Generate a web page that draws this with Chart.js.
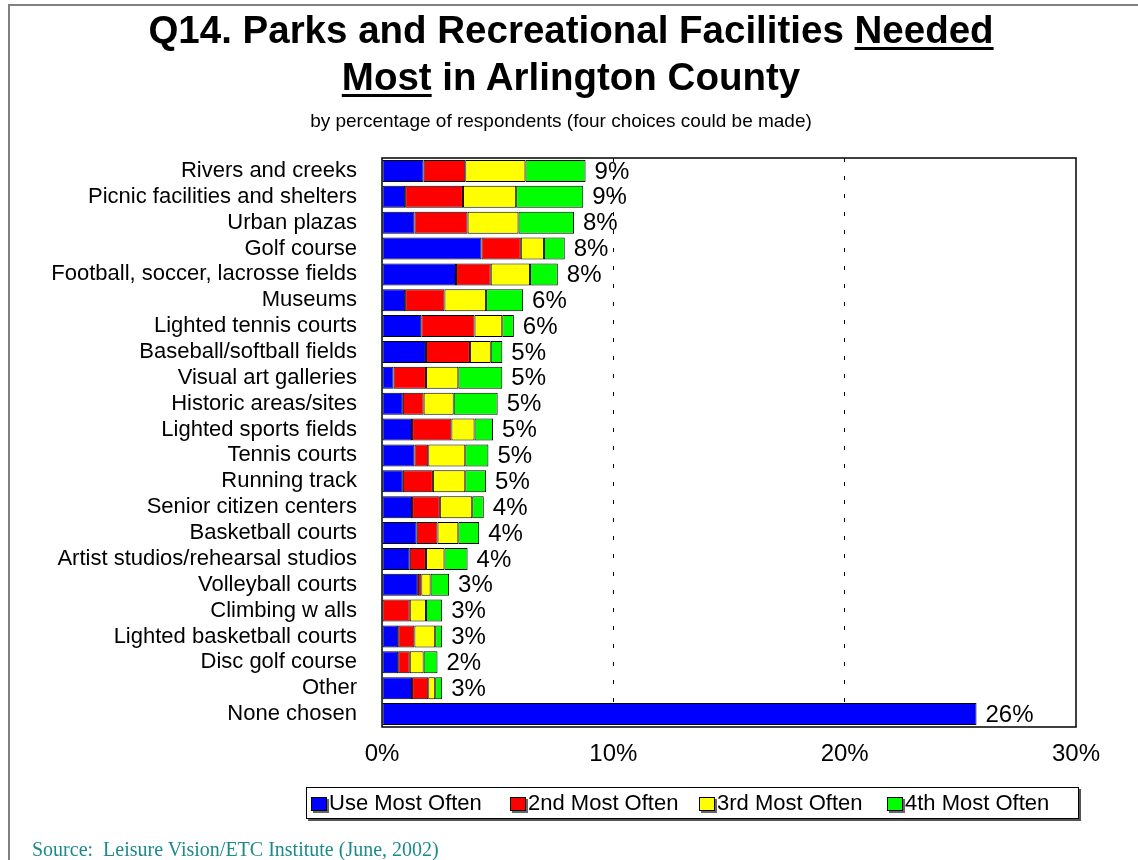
<!DOCTYPE html>
<html>
<head>
<meta charset="utf-8">
<script src="https://cdn.jsdelivr.net/npm/chart.js@4"></script>
<style>
  body { margin: 0; background: #fff; }
  #wrap { position: relative; width: 1138px; height: 860px; overflow: hidden; font-family: "Liberation Sans", Arial, sans-serif; }
  #frame { position: absolute; left: 8px; top: 4px; right: -2px; bottom: -2px; border-left: 2px solid #808080; border-top: 2px solid #808080; }
  #title { position: absolute; left: 0; top: 6px; width: 1142px; text-align: center; font-weight: bold; font-size: 38.5px; line-height: 47px; color: #000; }
  #title u { text-decoration-thickness: 3px; text-underline-offset: 4px; }
  #subtitle { position: absolute; left: 0; top: 110px; width: 1122px; text-align: center; font-size: 19px; color: #000; }
  #legend { position: absolute; left: 306px; top: 787px; width: 771px; height: 30px; border: 1.5px solid #000; box-shadow: 2px 2px 0 #555; }
  .item { position: absolute; top: 3px; font-size: 22px; line-height: 24px; color: #000; }
  .item span { display: inline-block; width: 14px; height: 12px; border: 1px solid #000; box-shadow: 2px 2px 0 #666; margin-right: 2px; vertical-align: -1px; }
  #source { position: absolute; left: 32px; top: 838px; font-family: "Liberation Serif", "Times New Roman", serif; font-size: 20px; color: #1a8a8a; }
</style>
</head>
<body>
<div id="wrap">
  <canvas id="parksChart"></canvas>
  <div id="frame"></div>
  <div id="title">Q14. Parks and Recreational Facilities <u>Needed</u><br><u>Most</u> in Arlington County</div>
  <div id="subtitle">by percentage of respondents (four choices could be made)</div>
  <div id="legend">
    <div class="item" style="left:4px"><span style="background:#0000ff"></span>Use Most Often</div>
    <div class="item" style="left:203px"><span style="background:#ff0000"></span>2nd Most Often</div>
    <div class="item" style="left:392px"><span style="background:#ffff00"></span>3rd Most Often</div>
    <div class="item" style="left:580px"><span style="background:#00ff00"></span>4th Most Often</div>
  </div>
  <div id="source">Source:&nbsp; Leisure Vision/ETC Institute (June, 2002)</div>
</div>
<script>
// data (percent of respondents)
const categories = [
  'Rivers and creeks', 'Picnic facilities and shelters', 'Urban plazas', 'Golf course',
  'Football, soccer, lacrosse fields', 'Museums', 'Lighted tennis courts', 'Baseball/softball fields',
  'Visual art galleries', 'Historic areas/sites', 'Lighted sports fields', 'Tennis courts',
  'Running track', 'Senior citizen centers', 'Basketball courts', 'Artist studios/rehearsal studios',
  'Volleyball courts', 'Climbing w alls', 'Lighted basketball courts', 'Disc golf course',
  'Other', 'None chosen'
];
const useMostOften = [1.8, 1.0, 1.4, 4.3, 3.2, 1.0, 1.7, 1.9, 0.5, 0.9, 1.3, 1.4, 0.9, 1.3, 1.5, 1.2, 1.55, 0, 0.7, 0.7, 1.3, 25.7];
const secondMostOften = [1.8, 2.5, 2.3, 1.7, 1.5, 1.7, 2.3, 1.9, 1.4, 0.9, 1.7, 0.6, 1.3, 1.2, 0.9, 0.7, 0.15, 1.2, 0.7, 0.5, 0.7, 0];
const thirdMostOften = [2.6, 2.3, 2.2, 1.0, 1.7, 1.8, 1.2, 0.9, 1.4, 1.3, 1.0, 1.6, 1.4, 1.4, 0.9, 0.8, 0.4, 0.7, 0.9, 0.6, 0.3, 0];
const fourthMostOften = [2.6, 2.9, 2.4, 0.9, 1.2, 1.6, 0.5, 0.5, 1.9, 1.9, 0.8, 1.0, 0.9, 0.5, 0.9, 1.0, 0.8, 0.7, 0.3, 0.6, 0.3, 0];
const totalLabels = ['9%', '9%', '8%', '8%', '8%', '6%', '6%', '5%', '5%', '5%', '5%', '5%', '5%', '4%', '4%', '4%', '3%', '3%', '3%', '2%', '3%', '26%'];
const xTicks = [0, 10, 20, 30];

// plot frame + total labels at the end of each stack
const extras = {
  id: 'extras',
  afterDatasetsDraw(chart) {
    const ctx = chart.ctx;
    const a = chart.chartArea;
    ctx.save();
    ctx.strokeStyle = '#000';
    ctx.lineWidth = 1.5;
    ctx.strokeRect(a.left, a.top, a.right - a.left, a.bottom - a.top);
    const last = chart.getDatasetMeta(chart.data.datasets.length - 1);
    ctx.fillStyle = '#000';
    ctx.font = '24px "Liberation Sans", Arial, sans-serif';
    ctx.textBaseline = 'middle';
    ctx.textAlign = 'left';
    last.data.forEach((bar, i) => {
      ctx.fillText(totalLabels[i], bar.x + 9, bar.y + 1);
    });
    ctx.restore();
  }
};

const ctxParks = document.getElementById('parksChart').getContext('2d');
const parksChart = new Chart(ctxParks, {
  type: 'bar',
  data: {
    labels: categories,
    datasets: [
      { label: 'Use Most Often', data: useMostOften, backgroundColor: '#0000ff' },
      { label: '2nd Most Often', data: secondMostOften, backgroundColor: '#ff0000' },
      { label: '3rd Most Often', data: thirdMostOften, backgroundColor: '#ffff00' },
      { label: '4th Most Often', data: fourthMostOften, backgroundColor: '#00ff00' }
    ].map(d => Object.assign(d, { borderColor: '#000', borderWidth: 1, borderSkipped: false, barPercentage: 0.85, categoryPercentage: 1 }))
  },
  options: {
    indexAxis: 'y',
    responsive: true,
    maintainAspectRatio: false,
    animation: false,
    layout: { padding: { top: 158, right: 62, bottom: 83, left: 0 } },
    scales: {
      x: {
        stacked: true,
        min: 0,
        max: 30,
        afterBuildTicks: s => { s.ticks = xTicks.map(v => ({ value: v })); },
        afterFit: s => { s.height = 50; },
        grid: {
          drawTicks: false,
          color: c => (c.tick && (c.tick.value === 10 || c.tick.value === 20)) ? '#000' : 'rgba(0,0,0,0)',
          lineWidth: 1
        },
        border: { display: false, dash: [4, 14] },
        ticks: {
          padding: 13,
          color: '#000',
          font: { family: '"Liberation Sans", Arial, sans-serif', size: 24 },
          callback: v => v + '%'
        }
      },
      y: {
        stacked: true,
        afterFit: s => { s.width = 382; },
        grid: { display: false, drawTicks: false },
        border: { display: false },
        ticks: {
          padding: 25,
          autoSkip: false,
          color: '#000',
          font: { family: '"Liberation Sans", Arial, sans-serif', size: 22 }
        }
      }
    },
    plugins: {
      legend: { display: false },
      tooltip: { enabled: false }
    }
  },
  plugins: [extras]
});
</script>
</body>
</html>
